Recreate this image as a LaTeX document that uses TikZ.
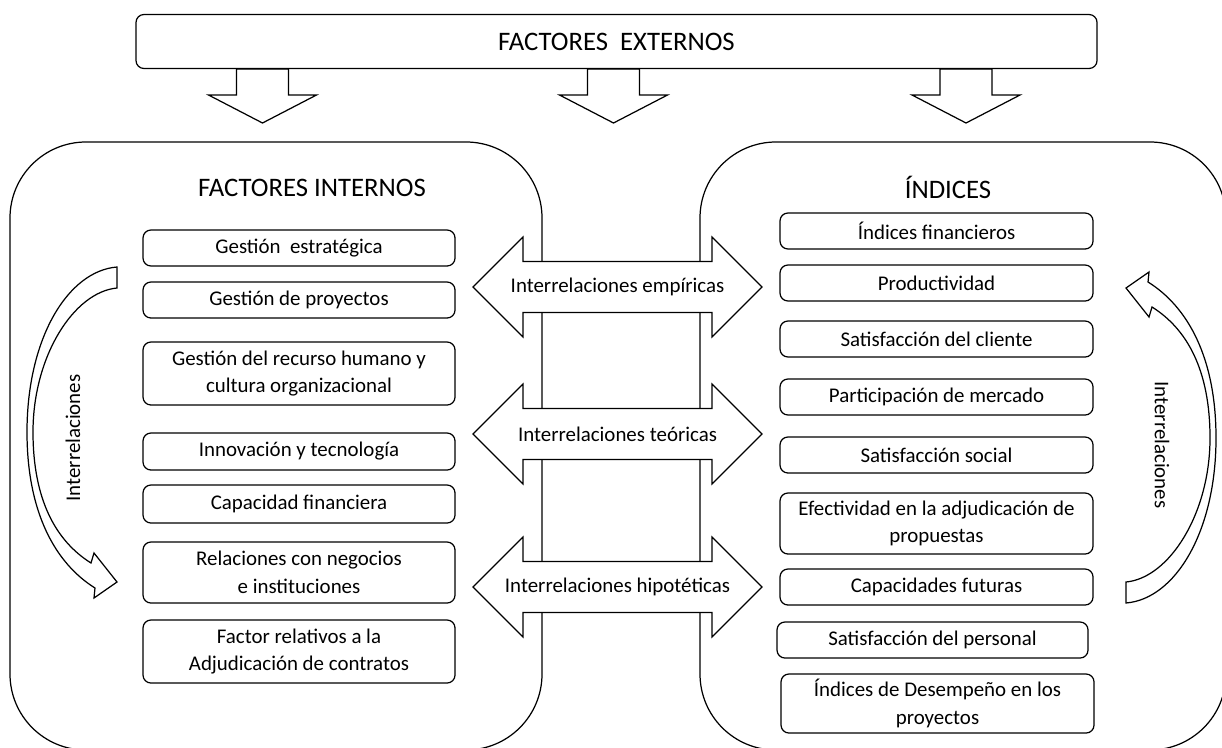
\documentclass[tikz,border=0pt]{standalone}
\usepackage{fontspec}
\setmainfont{Carlito}
\usetikzlibrary{calc}
\newcommand{\px}{0.02cm}
\newcommand{\curvedarrow}[1]{%
  \draw[fatarrow, #1] (117,267) .. controls (68,271) and (27,338) .. (27,432)
    .. controls (27,512) and (55,563) .. (95,588) -- (94,598) -- (117,582) -- (94,553) -- (91,563)
    .. controls (56,541) and (33,500) .. (33,432) .. controls (33,356) and (74,292) .. (117,288) -- cycle;}

\begin{document}
\begin{tikzpicture}[x=0.02cm, y=-0.02cm, line width=0.7pt]
  \tikzstyle{panel} = [draw, rounded corners=1.52cm]
  \tikzstyle{item} = [draw, fill=white, rounded corners=4.5pt, minimum width=312*\px, minimum height=36*\px, align=center, inner sep=1pt, font=\fontsize{11.9}{15.8}\selectfont]
  \tikzstyle{title} = [font=\fontsize{15.2}{18}\selectfont]
  \tikzstyle{fatarrow} = [draw, fill=white, line join=miter]
  \tikzstyle{arrowtext} = [font=\fontsize{11.9}{15.8}\selectfont]

  \useasboundingbox (0,0) rectangle (1222,747);
  \clip (0,0) rectangle (1222,747);

  \draw[panel] (10,142) rectangle (542,750);
  \draw[panel] (700,142) rectangle (1226,750);

  \node[title] (internos) at (312,188) {FACTORES INTERNOS};
  \node[title] (indices) at (948,187) {ÍNDICES};

  \node[item] (estrategica) at (299,248) {Gestión\ \ estratégica};
  \node[item] (proyectos) at (299,300) {Gestión de proyectos};
  \node[item, minimum height=63*\px] (humano) at (299,373.5) {Gestión del recurso humano y\\cultura organizacional};
  \node[item, minimum height=37*\px] (innovacion) at (299,451.5) {Innovación y tecnología};
  \node[item, minimum height=38*\px] (capacidad) at (299,504) {Capacidad financiera};
  \node[item, minimum height=61*\px] (relaciones) at (299,572.5) {Relaciones con negocios\\e instituciones};
  \node[item, minimum height=63*\px] (adjudicacion) at (299,651.5) {Factor relativos a la\\Adjudicación de contratos};

  \node[item, minimum width=313*\px] (financieros) at (936.5,231) {Índices financieros};
  \node[item, minimum width=313*\px] (productividad) at (936.5,283) {Productividad};
  \node[item, minimum width=313*\px] (cliente) at (936.5,339) {Satisfacción del cliente};
  \node[item, minimum width=313*\px] (mercado) at (936.5,397) {Participación de mercado};
  \node[item, minimum width=313*\px] (social) at (936.5,455) {Satisfacción social};
  \node[item, minimum width=313*\px, minimum height=61*\px] (efectividad) at (936.5,523.5) {Efectividad en la adjudicación de\\propuestas};
  \node[item, minimum width=313*\px] (futuras) at (936.5,587) {Capacidades futuras};
  \node[item, minimum width=311*\px] (personal) at (932.5,640) {Satisfacción del personal};
  \node[item, minimum width=313*\px, minimum height=59*\px] (desempeno) at (937.5,703.5) {Índices de Desempeño en los\\proyectos};

  \curvedarrow{}
  \curvedarrow{rotate around={180:(621.5,435)}}
  \node[rotate=90, arrowtext] (interizq) at (73,438) {Interrelaciones};
  \node[rotate=-90, arrowtext] (interder) at (1162,445) {Interrelaciones};

  \foreach \y/\name/\txt in {287/empiricas/empíricas, 434/teoricas/teóricas, 587/hipoteticas/hipotéticas} {
    \draw[fatarrow] (473,\y) -- (523,\y-50) -- (523,\y-25.5) -- (712,\y-25.5) -- (712,\y-50) -- (762,\y)
      -- (712,\y+50) -- (712,\y+25.5) -- (523,\y+25.5) -- (523,\y+50) -- cycle;
    \node[arrowtext] (\name) at (617.5,\y) {Interrelaciones \txt};
  }

  \foreach \x in {262.5, 613.5, 966}
    \draw[fatarrow] (\x-26,69) -- (\x-26,95) -- (\x-54,95) -- (\x,123) -- (\x+54,95) -- (\x+26,95) -- (\x+26,69) -- cycle;
  \node[draw, rounded corners=4.5pt, minimum width=961*\px, minimum height=54*\px, title] (externos) at (616.5,41.5) {FACTORES\ \ EXTERNOS};
\end{tikzpicture}
\end{document}
